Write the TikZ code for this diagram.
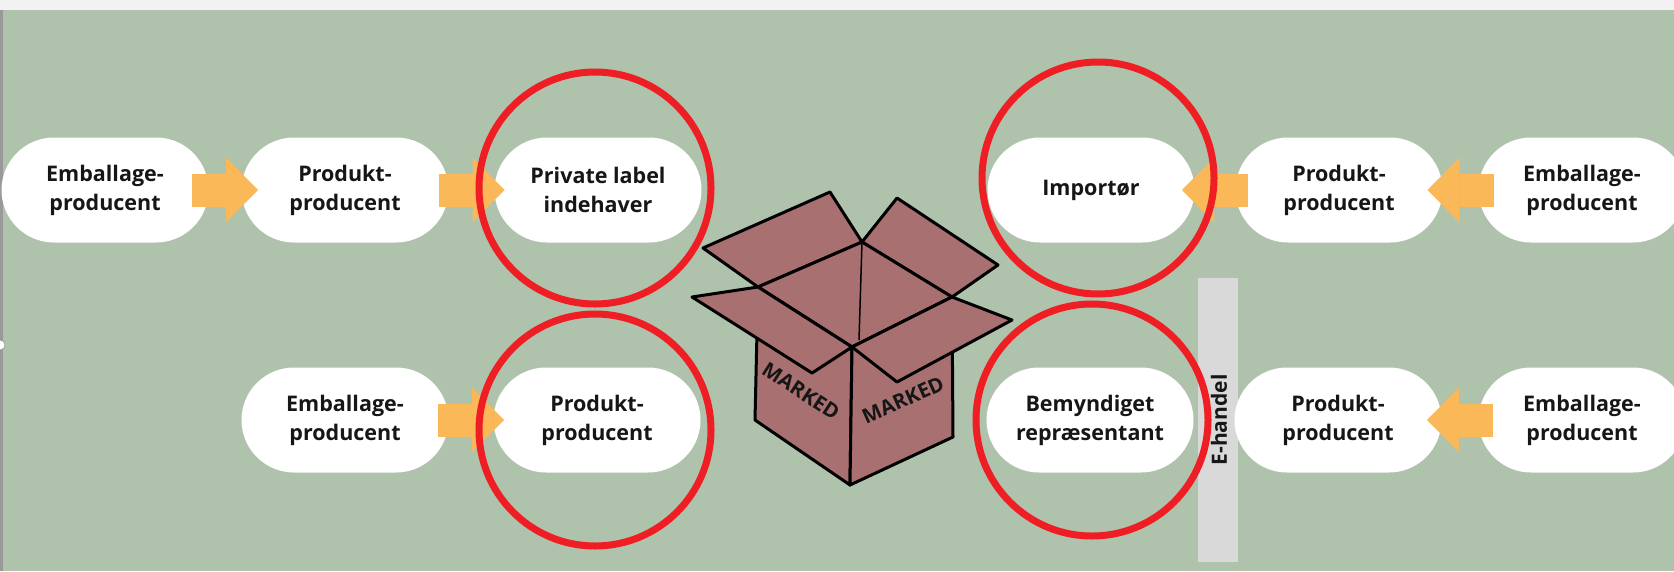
\documentclass[tikz,border=0pt]{standalone}
\usepackage{fontspec}
\setmainfont{Open Sans}
\usetikzlibrary{shapes.misc,arrows.meta,calc}
\definecolor{bggreen}{RGB}{175,194,172}
\definecolor{flowcol}{RGB}{250,184,88}
\definecolor{ringred}{RGB}{238,30,36}
\definecolor{boxcol}{RGB}{168,112,112}
\definecolor{barcol}{RGB}{217,217,217}
\definecolor{txtcol}{RGB}{22,22,22}
\begin{document}
\begin{tikzpicture}[x=1pt,y=-1pt,
  pill/.style={rounded rectangle,fill=white,minimum width=207pt,minimum height=105pt,
    inner sep=0pt,align=center,text=txtcol,font=\fontsize{21.5}{29}\selectfont\bfseries},
  flow/.style={flowcol,line width=33pt,-{Triangle[length=32pt,width=65pt,line width=0pt]}},
  ring/.style={ringred,line width=7pt},
  flap/.style={fill=boxcol,draw=black,line width=3pt,line join=round},
  stamp/.style={inner sep=0pt,text=txtcol,font=\fontsize{20.5}{20.5}\selectfont\bfseries}]
\useasboundingbox (0,0) rectangle (1674,571);
\fill[bggreen]  (0,0) rectangle (1674,571);
\fill[black!5]  (0,0) rectangle (1674,10);
\fill[gray!80]  (0,10) rectangle (3,571);
\draw[gray,fill=white] (0,345) circle (5);
% e-handel bar
\fill[barcol] (1198,278) rectangle (1238,562);
\node[rotate=90,text=txtcol,font=\fontsize{21}{21}\selectfont\bfseries] (ehandel) at (1219,420) {E-handel};
% actors
\foreach \n/\x/\y/\t in {em1/105/190/{Emballage-\\producent}, pr1/345/190/{Produkt-\\producent},
    pl/598/190/{Private label\\indehaver}, em2/345/420/{Emballage-\\producent}, pr2/597/420/{Produkt-\\producent},
    imp/1091/190/{Importør}, pr3/1339/190/{Produkt-\\producent}, em3/1582/190/{Emballage-\\producent},
    bem/1090/420/{Bemyndiget\\repræsentant}, pr4/1338/420/{Produkt-\\producent}, em4/1582/420/{Emballage-\\producent}}
{
\node[pill] (\n) at (\x,\y) {\t};
}
\foreach \s/\e in {em1/pr1, pr1/pl, em2/pr2}
{
\draw[flow] ($(\s.east)!.5!(\e.west)+(-33,0)$) -- ($(\s.east)!.5!(\e.west)+(33,0)$);
}
\foreach \s/\e in {em3/pr3, pr3/imp, em4/pr4}
{
\draw[flow] ($(\s.west)!.5!(\e.east)+(33,0)$) -- ($(\s.west)!.5!(\e.east)+(-33,0)$);
}
% the box
\coordinate (rl) at (758,287); \coordinate (rb) at (862,242);
\coordinate (rr) at (952,297); \coordinate (rf) at (852,347);
\coordinate (bl) at (755,420); \coordinate (bf) at (850,485); \coordinate (br) at (953,437);
\filldraw[flap] (rl) -- (703,248) -- (830,192) -- (rb) -- cycle;
\filldraw[flap] (rb) -- (897,198) -- (998,265) -- (rr) -- cycle;
\filldraw[flap] (rl) -- (rb) -- (rr) -- (rf) -- cycle;
\draw[line width=1.5pt] (rb) -- (859,340);
\filldraw[flap] (rl) -- (rf) -- (bf) -- (bl) -- cycle;
\filldraw[flap] (rf) -- (rr) -- (br) -- (bf) -- cycle;
\filldraw[flap] (rl) -- (692,297) -- (812,373) -- (rf) -- cycle;
\filldraw[flap] (rf) -- (897,382) -- (1012,320) -- (rr) -- cycle;
\node[stamp,rotate=-33] (mk1) at (801,391) {MARKED};
\node[stamp,rotate=24]  (mk2) at (903,400) {MARKED};
% the marked actors
\draw[ring] (595,188) circle (116);
\draw[ring] (595,430) circle (116);
\draw[ring] (1098,178) circle (116);
\draw[ring] (1092,420) circle (116);
\end{tikzpicture}
\end{document}
